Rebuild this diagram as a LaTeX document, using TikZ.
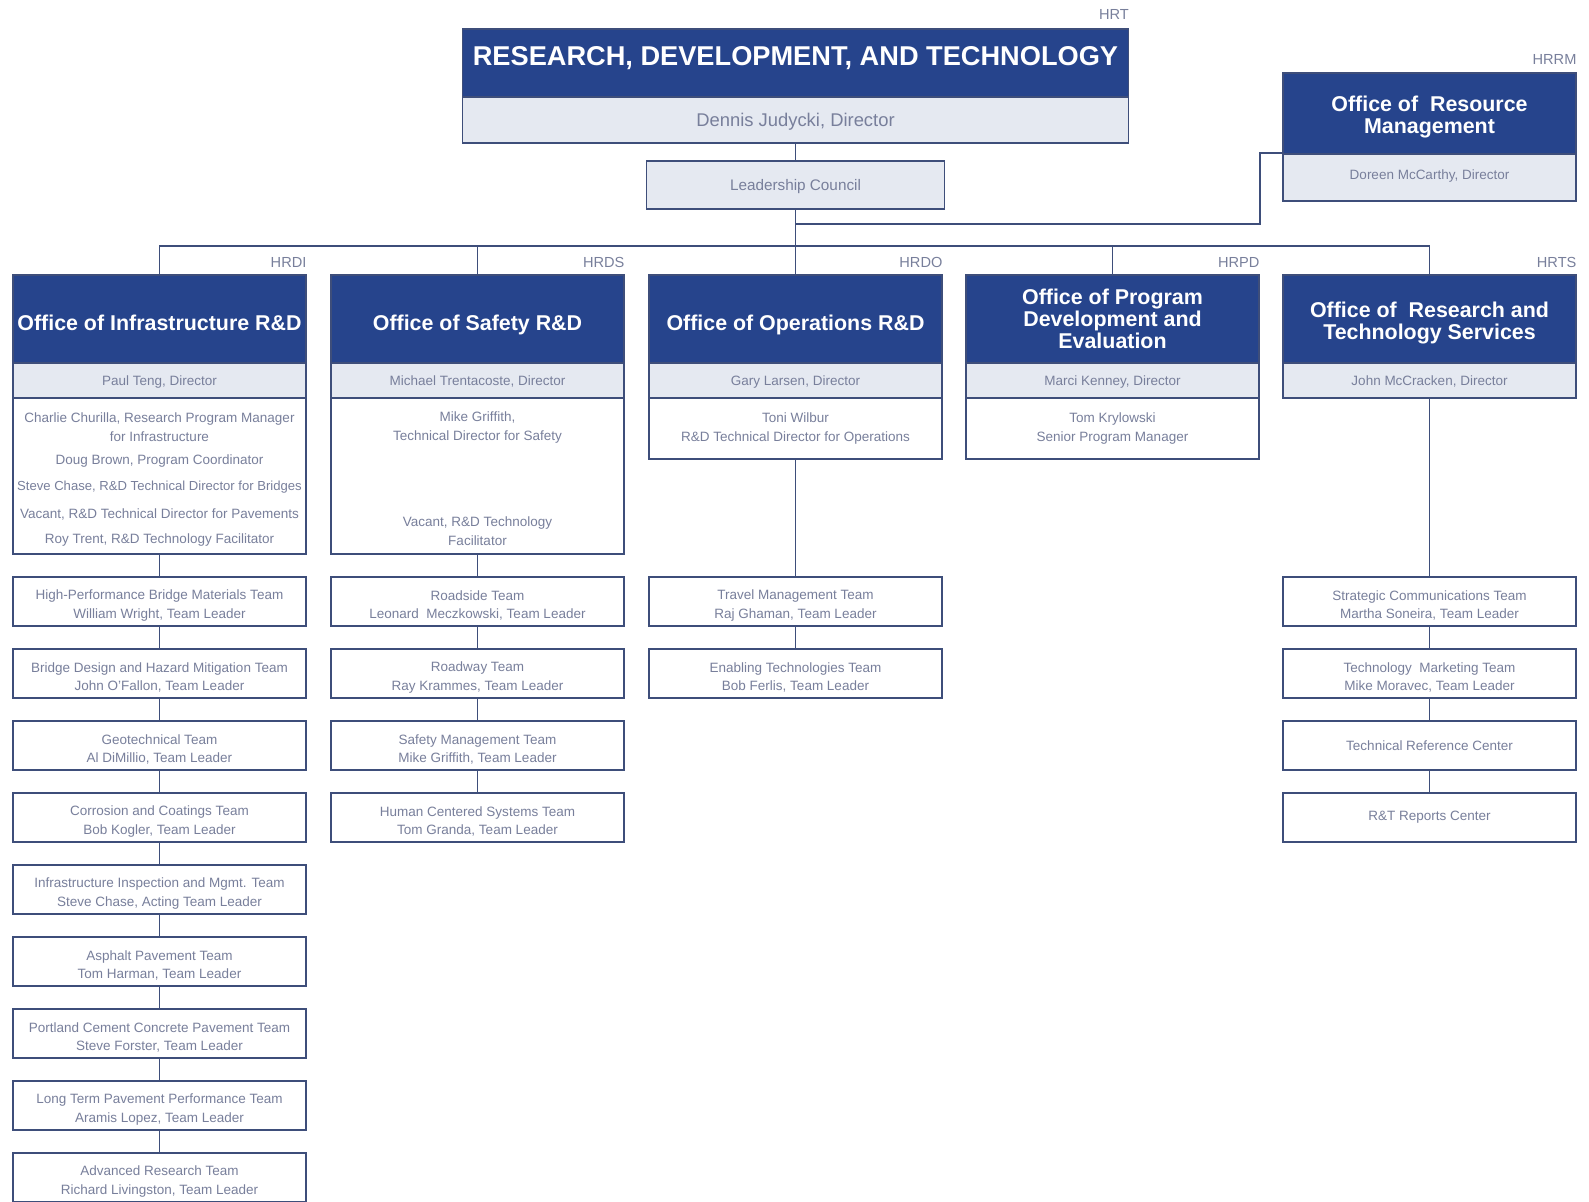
\documentclass[tikz,border=0pt]{standalone}
\usepackage{fontspec}
\setmainfont{Liberation Sans}
\definecolor{hblue}{RGB}{38,68,140}
\definecolor{bord}{RGB}{62,78,122}
\definecolor{lfill}{RGB}{229,233,241}
\definecolor{tgray}{RGB}{120,127,155}
\newcommand\tup{\rule{0pt}{9pt}}
\newcommand\hup{\rule{0pt}{11.9pt}}
\begin{document}
\begin{tikzpicture}[x=0.5pt,y=-0.5pt,
  hdr/.style={draw=bord, line width=0.8pt, fill=hblue, text=white,
    font=\fontsize{10.7}{11}\selectfont\bfseries, align=center, inner sep=0pt,
    anchor=north, minimum width=146.5pt, minimum height=44pt},
  hdrone/.style={hdr, text height=11.3pt, text depth=0pt},
  dirbox/.style={draw=bord, line width=0.8pt, fill=lfill, text=tgray,
    font=\fontsize{6.75}{9}\selectfont, align=center, inner sep=0pt,
    anchor=north, minimum width=146.5pt, minimum height=17.5pt,
    text height=5.2pt, text depth=0pt},
  detbox/.style={draw=bord, line width=0.8pt, fill=white, text=tgray,
    font=\fontsize{6.75}{9.5}\selectfont, align=center, inner sep=0pt,
    anchor=north, minimum width=146.5pt},
  team/.style={draw=bord, line width=0.9pt, fill=white, text=tgray,
    font=\fontsize{6.75}{9.2}\selectfont, align=center, inner sep=0pt,
    anchor=north, minimum width=146.5pt, minimum height=24.5pt},
  tx/.style={text=tgray, font=\fontsize{6.75}{9.5}\selectfont, align=center, inner sep=0pt},
  lbl/.style={text=tgray, font=\fontsize{7.3}{8}\selectfont, inner sep=0pt, anchor=base east},
  conn/.style={draw=bord, line width=0.9pt}
]
\useasboundingbox (0,0) rectangle (1589,1201);

% ---------- top ----------
\node[hdr, minimum width=333pt, minimum height=34pt, font=\fontsize{13.6}{15}\selectfont\bfseries,
  text height=3.1pt, text depth=0pt]
  (hrtH) at (795.5,28) {RESEARCH, DEVELOPMENT, AND TECHNOLOGY};
\node[dirbox, minimum width=333pt, minimum height=23pt, font=\fontsize{9.2}{10}\selectfont,
  text height=6.6pt]
  (hrtD) at (795.5,96) {Dennis Judycki, Director};
\node[lbl] (lHRT) at ([yshift=4.5pt]hrtH.north east) {HRT};

\node[dirbox, minimum width=149pt, minimum height=24pt, font=\fontsize{7.65}{9}\selectfont,
  text height=5.5pt]
  (lc) at (795.5,160) {Leadership Council};

\node[hdr, minimum height=40.5pt] (rmH) at (1429.5,72) {\hup Office of\ \ Resource\\Management};
\node[dirbox, minimum height=23.5pt, text height=2.4pt] (rmD) at (1429.5,153) {Doreen McCarthy, Director};
\node[lbl] (lHRRM) at ([yshift=4pt]rmH.north east) {HRRM};

% ---------- offices ----------
\node[hdrone] (infH) at (159.5,274) {Office of Infrastructure R\&D};
\node[dirbox] (infD) at (159.5,362) {Paul Teng, Director};
\node[detbox, minimum height=78pt] (infX) at (159.5,397) {};
\node[lbl] (lHRDI) at ([yshift=3.5pt]infH.north east) {HRDI};

\node[hdrone] (safH) at (477.5,274) {Office of Safety R\&D};
\node[dirbox] (safD) at (477.5,362) {Michael Trentacoste, Director};
\node[detbox, minimum height=78pt] (safX) at (477.5,397) {};
\node[lbl] (lHRDS) at ([yshift=3.5pt]safH.north east) {HRDS};

\node[hdrone] (opsH) at (795.5,274) {Office of Operations R\&D};
\node[dirbox] (opsD) at (795.5,362) {Gary Larsen, Director};
\node[detbox, minimum height=30.5pt] (opsX) at (795.5,397) {Toni Wilbur\\R\&D Technical Director for Operations};
\node[lbl] (lHRDO) at ([yshift=3.5pt]opsH.north east) {HRDO};

\node[hdr] (prgH) at (1112.5,274) {Office of Program\\Development and\\Evaluation};
\node[dirbox] (prgD) at (1112.5,362) {Marci Kenney, Director};
\node[detbox, minimum height=30.5pt] (prgX) at (1112.5,397) {Tom Krylowski\\Senior Program Manager};
\node[lbl] (lHRPD) at ([yshift=3.5pt]prgH.north east) {HRPD};

\node[hdr] (rtsH) at (1429.5,274) {\hup Office of\ \ Research and\\Technology Services};
\node[dirbox] (rtsD) at (1429.5,362) {John McCracken, Director};
\node[lbl] (lHRTS) at ([yshift=3.5pt]rtsH.north east) {HRTS};

% detail texts
\node[tx] (i1) at (159.5,427) {Charlie Churilla, Research Program Manager\\for Infrastructure};
\node[tx] (i2) at (159.5,461) {Doug Brown, Program Coordinator};
\node[tx] (i3) at (159.5,487) {\fontsize{6.55}{9.5}\selectfont Steve Chase, R\&D Technical Director for Bridges};
\node[tx] (i4) at (159.5,514) {Vacant, R\&D Technical Director for Pavements};
\node[tx] (i5) at (159.5,540) {Roy Trent, R\&D Technology Facilitator};
\node[tx] (s1) at (477.5,427) {Mike Griffith,\\Technical Director for Safety};
\node[tx] (s2) at (477.5,531) {Vacant, R\&D Technology\\Facilitator};

% ---------- teams ----------
\node[team] (it0) at (159.5,576)  {\tup High-Performance Bridge Materials Team\\William Wright, Team Leader};
\node[team] (it1) at (159.5,648)  {\tup Bridge Design and Hazard Mitigation Team\\John O'Fallon, Team Leader};
\node[team] (it2) at (159.5,720)  {\tup Geotechnical Team\\Al DiMillio, Team Leader};
\node[team] (it3) at (159.5,792)  {\tup Corrosion and Coatings Team\\Bob Kogler, Team Leader};
\node[team] (it4) at (159.5,864)  {\tup Infrastructure Inspection and Mgmt. Team\\Steve Chase, Acting Team Leader};
\node[team] (it5) at (159.5,936)  {\tup Asphalt Pavement Team\\Tom Harman, Team Leader};
\node[team] (it6) at (159.5,1008) {\tup Portland Cement Concrete Pavement Team\\Steve Forster, Team Leader};
\node[team] (it7) at (159.5,1080) {\tup Long Term Pavement Performance Team\\Aramis Lopez, Team Leader};
\node[team] (it8) at (159.5,1152) {\tup Advanced Research Team\\Richard Livingston, Team Leader};

\node[team] (st0) at (477.5,576) {\tup Roadside Team\\Leonard\ \ Meczkowski, Team Leader};
\node[team] (st1) at (477.5,648) {\tup Roadway Team\\Ray Krammes, Team Leader};
\node[team] (st2) at (477.5,720) {\tup Safety Management Team\\Mike Griffith, Team Leader};
\node[team] (st3) at (477.5,792) {\tup Human Centered Systems Team\\Tom Granda, Team Leader};

\node[team] (ot0) at (795.5,576) {\tup Travel Management Team\\Raj Ghaman, Team Leader};
\node[team] (ot1) at (795.5,648) {\tup Enabling Technologies Team\\Bob Ferlis, Team Leader};

\node[team] (rt0) at (1429.5,576) {\tup Strategic Communications Team\\Martha Soneira, Team Leader};
\node[team] (rt1) at (1429.5,648) {\tup Technology\ \ Marketing Team\\Mike Moravec, Team Leader};
\node[team] (rt2) at (1429.5,720) {Technical Reference Center};
\node[team] (rt3) at (1429.5,792) {R\&T Reports Center};

% ---------- connectors ----------
\coordinate (bus) at (795.5,246);
\coordinate (j) at (795.5,224);
\coordinate (rmb) at (1260,224);
\draw[conn] (hrtD.south) -- (lc.north);
\draw[conn] (lc.south) -- (opsH.north);
\draw[conn] (rmD.north west) -| (rmb) -- (j);
\draw[conn] (infH.north) |- (bus) -| (rtsH.north);
\draw[conn] (safH.north) -- (safH.north |- bus);
\draw[conn] (prgH.north) -- (prgH.north |- bus);

\draw[conn] (infX.south) -- (it0.north);
\foreach \a/\b in {it0/it1,it1/it2,it2/it3,it3/it4,it4/it5,it5/it6,it6/it7,it7/it8}
  \draw[conn] (\a.south) -- (\b.north);
\draw[conn] (safX.south) -- (st0.north);
\foreach \a/\b in {st0/st1,st1/st2,st2/st3}
  \draw[conn] (\a.south) -- (\b.north);
\draw[conn] (opsX.south) -- (ot0.north);
\draw[conn] (ot0.south) -- (ot1.north);
\draw[conn] (rtsD.south) -- (rt0.north);
\foreach \a/\b in {rt0/rt1,rt1/rt2,rt2/rt3}
  \draw[conn] (\a.south) -- (\b.north);
\end{tikzpicture}
\end{document}
